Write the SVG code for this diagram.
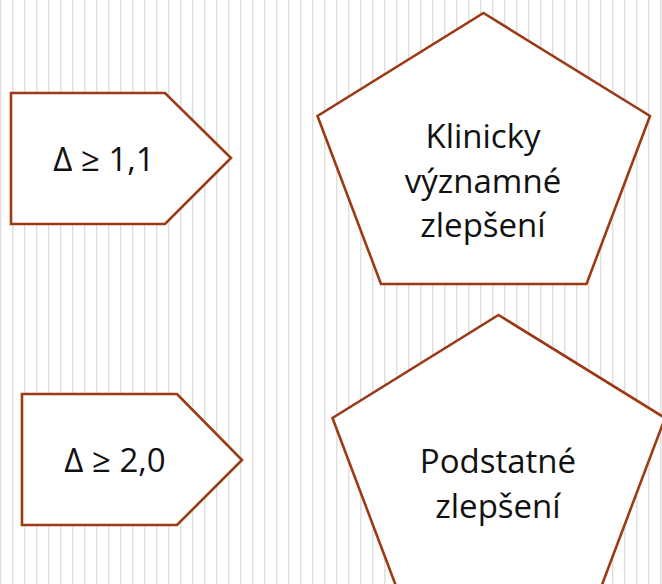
<svg xmlns="http://www.w3.org/2000/svg" width="662" height="584" viewBox="0 0 662 584">
  <defs>
    <!-- thin vertical rule lines on the page background -->
    <pattern id="stripes" x="0" y="0" width="12" height="584" patternUnits="userSpaceOnUse">
      <rect x="0" y="0" width="1.5" height="584" fill="#e0e0e0"/>
    </pattern>
    <style>
      .shape { fill: #ffffff; stroke: #9c3a16; stroke-width: 2.6; stroke-linejoin: miter; }
      .label { font-family: "Open Sans", "Noto Sans", "DejaVu Sans", sans-serif; font-size: 33px; fill: #111111; text-anchor: middle; }
    </style>
  </defs>

  <rect x="0" y="0" width="662" height="584" fill="#ffffff"/>
  <rect x="0" y="0" width="662" height="584" fill="url(#stripes)"/>

  <g id="threshold-1">
    <polygon class="shape" points="11,93 165,93 231,158 165,224 11,224"/>
    <text class="label" x="104" y="171">Δ ≥ 1,1</text>
  </g>

  <g id="result-1">
    <polygon class="shape" points="483.5,13 650,116 586.5,284 381,284 317.5,116"/>
    <text class="label" x="483" y="148">Klinicky</text>
    <text class="label" x="483" y="192.5">významné</text>
    <text class="label" x="483" y="237">zlepšení</text>
  </g>

  <g id="threshold-2">
    <polygon class="shape" points="22,394 177,394 242,460 177,525 22,525"/>
    <text class="label" x="115" y="472">Δ ≥ 2,0</text>
  </g>

  <g id="result-2">
    <polygon class="shape" points="498.5,315 665,418 601.5,586 396,586 332.5,418"/>
    <text class="label" x="498" y="473">Podstatné</text>
    <text class="label" x="498" y="518">zlepšení</text>
  </g>

  <g id="connectors"></g>
</svg>
